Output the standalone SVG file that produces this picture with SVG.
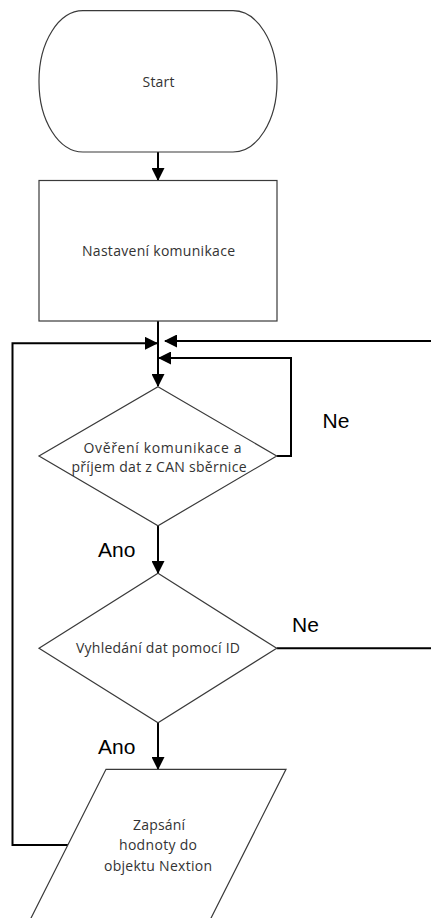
<svg xmlns="http://www.w3.org/2000/svg" width="431" height="918" viewBox="0 0 431 918">
<style>
.shape{fill:#fff;stroke:#3a3a3a;stroke-width:1.2}
.conn{fill:none;stroke:#000;stroke-width:2}
.nt{font-family:"Open Sans","Liberation Sans",sans-serif;font-size:14px;fill:#333;text-anchor:middle}
.lbl{font-family:"Liberation Sans",Arial,sans-serif;font-size:21px;fill:#000}
</style>
<defs>
<marker id="arr" viewBox="0 0 13 13" markerWidth="13" markerHeight="13" refX="12" refY="6.5" orient="auto" markerUnits="userSpaceOnUse">
<path d="M0,0 L13,6.5 L0,13 z" fill="#000"/>
</marker>
</defs>
<rect width="431" height="918" fill="#fff"/>
<g id="connectors">
<path class="conn" d="M158,152 V180" marker-end="url(#arr)"/>
<path class="conn" d="M158,321 V386" marker-end="url(#arr)"/>
<path class="conn" d="M276.7,456 H291 V358 H159" marker-end="url(#arr)"/>
<path class="conn" d="M158,525.7 V573" marker-end="url(#arr)"/>
<path class="conn" d="M276.7,648.3 H434 V341 H165" marker-end="url(#arr)"/>
<path class="conn" d="M158,722.7 V769" marker-end="url(#arr)"/>
<path class="conn" d="M68,845 H12.5 V343.3 H157" marker-end="url(#arr)"/>
</g>
<g id="start">
<rect class="shape" x="39" y="10.7" width="238" height="141.3" rx="44" ry="70"/>
<text class="nt" x="158.5" y="87" textLength="32" lengthAdjust="spacing">Start</text>
</g>
<g id="setup">
<rect class="shape" x="39" y="180.5" width="238" height="140.5"/>
<text class="nt" x="158.5" y="256" textLength="153" lengthAdjust="spacing">Nastavení komunikace</text>
</g>
<g id="check">
<polygon class="shape" points="158,386.7 276.7,456 158,525.7 39,456"/>
<text class="nt" x="162.5" y="452.5" textLength="158" lengthAdjust="spacing">Ověření komunikace a</text>
<text class="nt" x="159" y="471.5" textLength="175" lengthAdjust="spacing">příjem dat z CAN sběrnice</text>
</g>
<g id="search">
<polygon class="shape" points="158,573.3 276.7,648.3 158,722.7 39,648.3"/>
<text class="nt" x="158" y="653.3" textLength="164" lengthAdjust="spacing">Vyhledání dat pomocí ID</text>
</g>
<g id="write">
<polygon class="shape" points="106,769.3 286,769.3 205,930 25,930"/>
<text class="nt" x="159" y="830" textLength="52" lengthAdjust="spacing">Zapsání</text>
<text class="nt" x="158" y="850" textLength="78" lengthAdjust="spacing">hodnoty do</text>
<text class="nt" x="158" y="870.5" textLength="108" lengthAdjust="spacing">objektu Nextion</text>
</g>
<g id="labels">
<text class="lbl" x="322.5" y="427.5">Ne</text>
<text class="lbl" x="98" y="556.7">Ano</text>
<text class="lbl" x="292" y="632">Ne</text>
<text class="lbl" x="98" y="754">Ano</text>
</g>
</svg>
